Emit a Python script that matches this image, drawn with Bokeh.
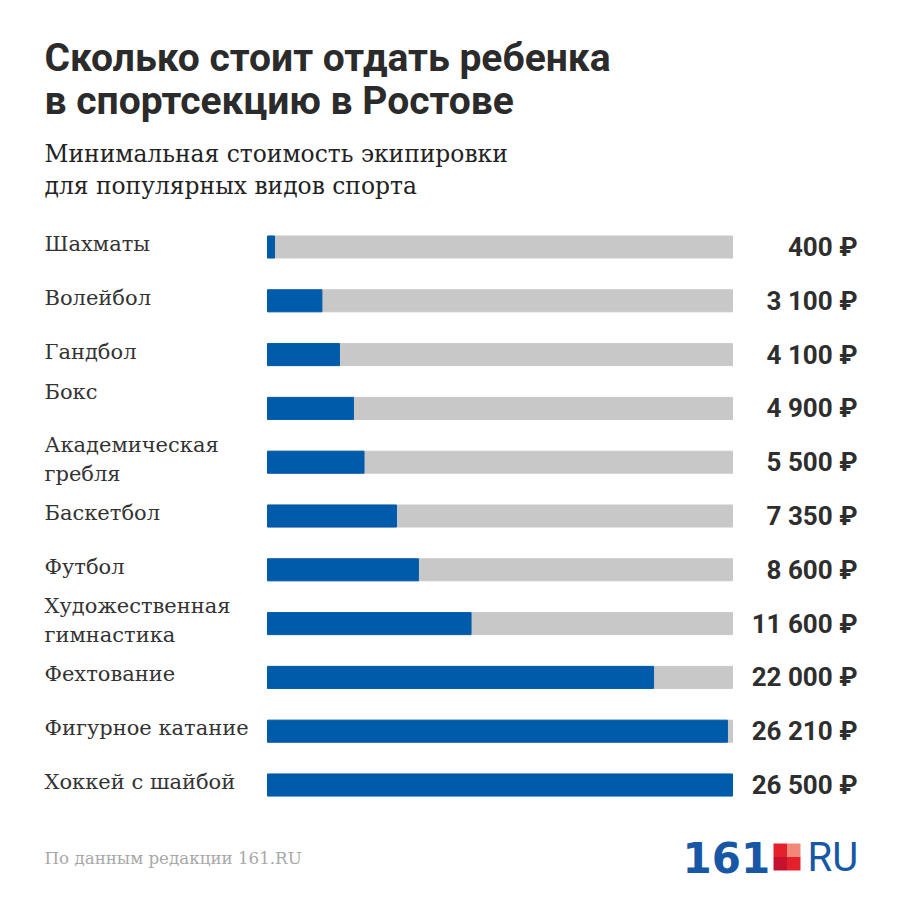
from bokeh.plotting import figure
from bokeh.models import Range1d, Label, BoxAnnotation, ColumnDataSource
from bokeh.core.properties import value
from bokeh.embed import file_html
from bokeh.resources import INLINE

# ---- data ----
categories = ["Шахматы", "Волейбол", "Гандбол", "Бокс", "Академическая\nгребля",
              "Баскетбол", "Футбол", "Художественная\nгимнастика", "Фехтование",
              "Фигурное катание", "Хоккей с шайбой"]
costs = [400, 3100, 4100, 4900, 5500, 7350, 8600, 11600, 22000, 26210, 26500]
cost_labels = ["400 ₽", "3 100 ₽", "4 100 ₽", "4 900 ₽", "5 500 ₽", "7 350 ₽",
               "8 600 ₽", "11 600 ₽", "22 000 ₽", "26 210 ₽", "26 500 ₽"]
title_lines = ["Сколько стоит отдать ребенка", "в спортсекцию в Ростове"]
subtitle_lines = ["Минимальная стоимость экипировки", "для популярных видов спорта"]
source_text = "По данным редакции 161.RU"

# ---- layout constants (pixels) ----
W, H = 884, 884
BAR_LEFT, BAR_RIGHT = 267, 732
ROW0, PITCH = 246.5, 53.8
BAR_H = 22
LABEL_X, VALUE_X = 44, 857
LABEL_NUDGE = {"Бокс": -13}
MAXV = max(costs)
rpp = MAXV / (BAR_RIGHT - BAR_LEFT)

BLUE = "#005bab"
GRAY = "#c8c8c8"
DARK = "#2e2e2e"

p = figure(width=W, height=H, output_backend="svg", toolbar_location=None,
           x_range=Range1d(-BAR_LEFT * rpp, (W - BAR_LEFT) * rpp),
           y_range=Range1d((H - ROW0) / PITCH, -ROW0 / PITCH),
           min_border=0, outline_line_color=None)
p.axis.visible = False
p.grid.visible = False
p.background_fill_color = "white"
p.border_fill_color = "white"

n = len(categories)
idx = list(range(n))
src = ColumnDataSource(dict(y=idx, cost=costs, full=[MAXV] * n,
                            cat=categories, lab=cost_labels,
                            lx=[(LABEL_X - BAR_LEFT) * rpp] * n,
                            vx=[(VALUE_X - BAR_LEFT) * rpp] * n,
                            ly=[i + (LABEL_NUDGE.get(c, 0) - 3) / PITCH
                                for i, c in zip(idx, categories)]))

bh = BAR_H / PITCH
p.hbar(y="y", left=0, right="full", height=bh, color=GRAY, source=src)
p.hbar(y="y", left=0, right="cost", height=bh, color=BLUE, source=src)

p.text(x="lx", y="ly", text="cat", source=src, text_baseline="middle",
       text_align="left", text_font=value("DejaVu Serif"), text_font_size="21px",
       text_color="#333333", text_line_height=1.2)
p.text(x="vx", y="y", text="lab", source=src, text_baseline="middle",
       text_align="right", text_font=value("Roboto"), text_font_style="bold",
       text_font_size="26px", text_color=DARK)

def slabel(txt, x, y_mid, size, font, style="normal", color=DARK, align="left"):
    p.add_layout(Label(x=x, y=H - y_mid, x_units="screen", y_units="screen",
                       text=txt, text_font=font, text_font_size=size,
                       text_font_style=style, text_color=color,
                       text_baseline="middle", text_align=align))

slabel(title_lines[0], 44, 57, "39px", "Roboto", "bold", "#2b2b2b")
slabel(title_lines[1], 44, 100, "39px", "Roboto", "bold", "#2b2b2b")
slabel(subtitle_lines[0], 44, 153, "23.4px", "DejaVu Serif", color="#222222")
slabel(subtitle_lines[1], 44, 185, "23.4px", "DejaVu Serif", color="#222222")
slabel(source_text, 44, 857, "16.7px", "DejaVu Serif", color="#a8a8a8")

# logo
slabel("161", 682, 857, "42px", "DejaVu Sans", "bold", "#1757a6")
slabel("RU", 807, 857, "40px", "Roboto", "normal", "#1757a6")
sq_l, sq_t, s = 773, 843, 13.5
for (dx, dy, c) in [(0, 0, "#e4202c"), (1, 0, "#f2887a"), (0, 1, "#c4122f"), (1, 1, "#e4202c")]:
    p.add_layout(BoxAnnotation(left=sq_l + dx * s, right=sq_l + (dx + 1) * s,
                               top=H - (sq_t + dy * s), bottom=H - (sq_t + (dy + 1) * s),
                               left_units="screen", right_units="screen",
                               top_units="screen", bottom_units="screen",
                               fill_color=c, fill_alpha=1, line_color=None))

open("out.html", "w").write(file_html(p, INLINE))
